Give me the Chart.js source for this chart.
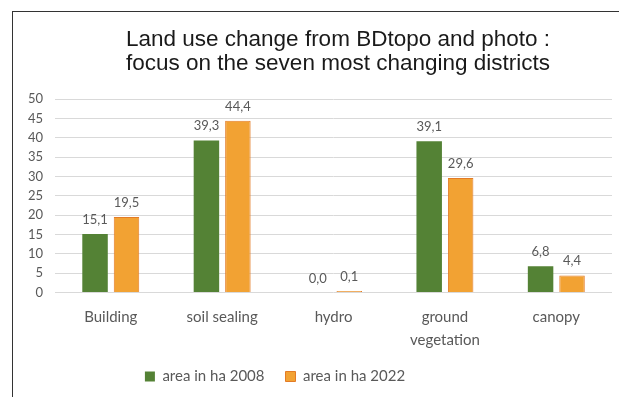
<!DOCTYPE html>
<html>
<head>
<meta charset="utf-8">
<script src="https://cdn.jsdelivr.net/npm/chart.js@4/dist/chart.umd.min.js"></script>
<style>
  html, body { margin: 0; padding: 0; background: #fff; width: 619px; height: 397px; overflow: hidden; }
  #frame { position: absolute; left: 12px; top: 11px; width: 620px; height: 400px;
           border-top: 1px solid #333; border-left: 1px solid #333; }
  #c { position: absolute; left: 13px; top: 12px; }
</style>
</head>
<body>
<div id="frame"></div>
<canvas id="c" width="606" height="385"></canvas>
<script>
const categories = ['Building', 'soil sealing', 'hydro', ['ground', 'vegetation'], 'canopy'];
const area2008 = [15.1, 39.3, 0.0, 39.1, 6.8];
const area2022 = [19.5, 44.4, 0.1, 29.6, 4.4];
const seriesNames = ['area in ha 2008', 'area in ha 2022'];
const titleLines = ['Land use change from BDtopo and photo :', 'focus on the seven most changing districts'];
const yTicksMax = 50;
const yTicksStep = 5;

const GREY = '#595959';
const LABEL_FONT = 'Lato';

const valueLabels = {
  id: 'valueLabels',
  afterDatasetsDraw(chart) {
    const ctx = chart.ctx;
    ctx.save();
    ctx.font = '13px ' + LABEL_FONT;
    ctx.fillStyle = GREY;
    ctx.textAlign = 'center';
    ctx.textBaseline = 'alphabetic';
    chart.data.datasets.forEach((ds, i) => {
      const meta = chart.getDatasetMeta(i);
      meta.data.forEach((bar, j) => {
        const txt = ds.data[j].toFixed(1).replace('.', ',');
        ctx.fillText(txt, bar.x, bar.y - 10);
      });
    });
    ctx.restore();
  }
};

const shiftBoxes = {
  id: 'shiftBoxes',
  afterLayout(chart) {
    const t = chart.titleBlock;
    if (t) { t.left += 24; t.right += 24; }
    const l = chart.legend;
    if (l) { l.left -= 39; l.right -= 39; }
  }
};

new Chart(document.getElementById('c'), {
  type: 'bar',
  data: {
    labels: categories,
    datasets: [
      { label: seriesNames[0], data: area2008, backgroundColor: '#548235', borderColor: '#548235', borderWidth: 0 },
      { label: seriesNames[1], data: area2022, backgroundColor: '#F2A233', borderColor: '#E37B26', borderWidth: 1, minBarLength: 1.5 }
    ]
  },
  options: {
    responsive: false,
    animation: false,
    devicePixelRatio: 1,
    layout: { padding: { left: 3, right: 7, top: 0, bottom: 3 } },
    datasets: { bar: { categoryPercentage: 0.565, barPercentage: 0.81 } },
    scales: {
      x: {
        grid: { display: false, drawTicks: false },
        border: { display: false },
        ticks: { color: GREY, font: { family: LABEL_FONT, size: 15, lineHeight: 1.55 }, padding: 13, maxRotation: 0, autoSkip: false },
        afterFit(s) { s.height -= 17; }
      },
      y: {
        min: 0, max: yTicksMax,
        grid: { color: '#D9D9D9', drawTicks: false, lineWidth: 1 },
        border: { display: false },
        ticks: { stepSize: yTicksStep, autoSkip: false, color: GREY, font: { family: LABEL_FONT, size: 13 }, padding: 12 }
      }
    },
    plugins: {
      title: {
        display: true,
        text: titleLines,
        color: '#1a1a1a',
        font: { family: 'Liberation Sans', size: 22.5, weight: 'normal', lineHeight: 1.1 },
        padding: { top: 15, bottom: 22.5 }
      },
      legend: {
        position: 'bottom',
        labels: { color: GREY, font: { family: LABEL_FONT, size: 15 }, boxWidth: 10, boxHeight: 10, padding: 21 }
      },
      tooltip: { enabled: false }
    }
  },
  plugins: [valueLabels, shiftBoxes]
});
</script>
</body>
</html>
